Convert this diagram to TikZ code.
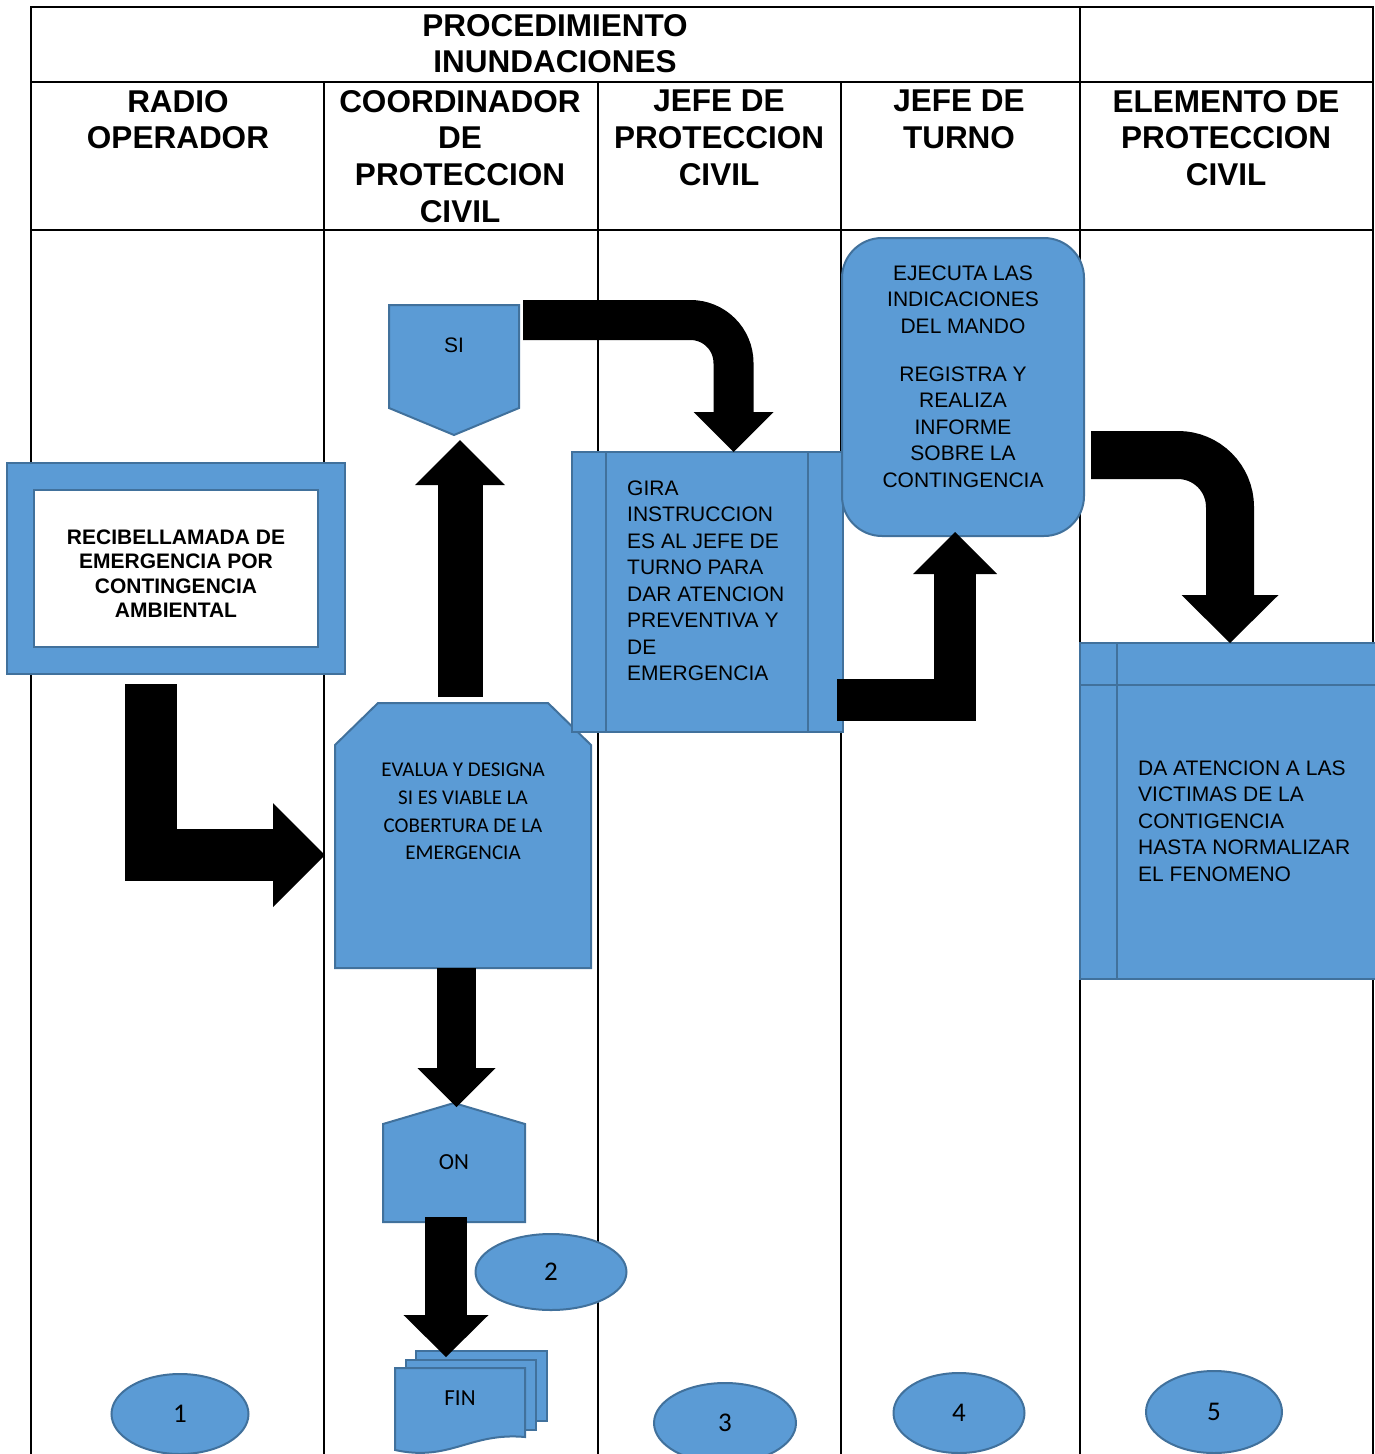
\documentclass[tikz,border=0pt]{standalone}
\usepackage{fontspec}
\setmainfont{Liberation Sans}
\newfontfamily\calibri{Carlito}
\usetikzlibrary{arrows.meta,shapes.geometric}
\definecolor{azul}{HTML}{5B9BD5}
\definecolor{borde}{HTML}{41719C}

\begin{document}
\begin{tikzpicture}[x=1pt, y=-1pt,
    linea/.style={line width=2pt},
    caja/.style={fill=azul, draw=borde, line width=2pt},
    forma/.style={inner sep=0pt, outer sep=0pt},
    texto/.style={inner sep=0pt, align=#1, font=\fontsize{21}{26.5}\selectfont},
    flecha/.style 2 args={line width=#1, -{Triangle[length=#1, width=#2, line width=0pt]}},
    encabezado/.style={inner sep=0pt, anchor=north, align=center, font=\fontsize{31.5}{36.8}\selectfont\bfseries},
    numero/.style={ellipse, caja, inner sep=0pt, font=\calibri\fontsize{27}{30}\selectfont},
  ]
  \useasboundingbox (0,0) rectangle (1375,1454);

  % tabla
  \draw[linea] (31,1454) -- (31,7) -- (1373,7) -- (1373,1454);
  \draw[linea] (31,82) -- (1373,82) (31,230) -- (1373,230);
  \draw[linea] (1080,7) -- (1080,1454);
  \foreach \x in {324,598,841}
    \draw[linea] (\x,82) -- (\x,1454);

  \node[encabezado] (titulo) at (555,14) {PROCEDIMIENTO\\INUNDACIONES};
  \node[encabezado] (hradio) at (178,90) {RADIO\\OPERADOR};
  \node[encabezado] (hcoord) at (460,90) {COORDINADOR\\DE\\PROTECCION\\CIVIL};
  \node[encabezado] (hjefepc) at (719,90) {JEFE DE\\PROTECCION\\CIVIL};
  \node[encabezado] (hjefet) at (959,90) {JEFE DE\\TURNO};
  \node[encabezado] (helemento) at (1226,90) {ELEMENTO DE\\PROTECCION\\CIVIL};

  % radio operador
  \node[caja, forma, minimum width=338pt, minimum height=211pt] (recibe) at (176,568.5) {};
  \node[forma, fill=white, draw=borde, line width=2pt, minimum width=284pt, minimum height=157pt] (llamada) at (recibe) {};
  \node[inner sep=0pt, anchor=north, align=center, font=\fontsize{21}{24.5}\selectfont\bfseries] (llamadatxt)
    at ([yshift=-39.5pt]llamada.north) {RECIBELLAMADA DE\\EMERGENCIA POR\\CONTINGENCIA\\AMBIENTAL};

  % coordinador
  \node[forma, minimum width=256pt, minimum height=265pt] (evalua) at (463,835.5) {};
  \draw[caja] (evalua.south west) -- ([yshift=-42pt]evalua.north west) -- ([xshift=43pt]evalua.north west)
    -- ([xshift=-43pt]evalua.north east) -- ([yshift=-42pt]evalua.north east) -- (evalua.south east) -- cycle;
  \node[texto=center, anchor=north, font=\calibri\fontsize{21}{27.7}\selectfont] (evaluatxt)
    at ([yshift=-60pt]evalua.north) {EVALUA Y DESIGNA\\SI ES VIABLE LA\\COBERTURA DE LA\\EMERGENCIA};

  \node[forma, minimum width=130pt, minimum height=130pt] (si) at (454,370) {};
  \draw[caja] (si.north west) -- (si.north east) -- ([yshift=27pt]si.south east) -- (si.south)
    -- ([yshift=27pt]si.south west) -- cycle;
  \node[texto=center, anchor=north] (sitxt) at ([yshift=-32.5pt]si.north) {SI};

  \node[forma, minimum width=142pt, minimum height=119pt] (on) at (454,1162.5) {};
  \draw[caja] (on.south west) -- ([yshift=-21pt]on.north west) -- (on.north)
    -- ([yshift=-21pt]on.north east) -- (on.south east) -- cycle;
  \node[inner sep=0pt, font=\calibri\fontsize{23}{26}\selectfont] (ontxt) at (on) {ON};

  \node[forma, minimum width=130pt, minimum height=84pt] (fin) at (460,1410) {};
  \draw[caja] ([xshift=21pt,yshift=17pt]fin.north west) rectangle ([xshift=22pt,yshift=31pt]fin.south east);
  \draw[caja] ([xshift=11pt,yshift=8pt]fin.north west) rectangle ([xshift=11pt,yshift=22pt]fin.south east);
  \draw[caja] (fin.north west) -- (fin.north east) -- ([yshift=15pt]fin.south east)
    .. controls ([xshift=-55pt,yshift=20pt]fin.south east) and ([xshift=55pt,yshift=-10pt]fin.south west)
    .. ([yshift=2pt]fin.south west) -- cycle;
  \node[inner sep=0pt, font=\calibri\fontsize{23}{26}\selectfont] (fintxt) at ([yshift=12pt]fin) {FIN};

  % jefe de proteccion civil
  \node[caja, forma, minimum width=271pt, minimum height=280pt] (gira) at (707.5,592) {};
  \draw[draw=borde, line width=2pt] ([xshift=34pt]gira.north west) -- ([xshift=34pt]gira.south west)
    ([xshift=-35pt]gira.north east) -- ([xshift=-35pt]gira.south east);
  \node[texto=left, anchor=north west] (giratxt) at ([xshift=55pt,yshift=-28.5pt]gira.north west)
    {GIRA\\INSTRUCCION\\ES AL JEFE DE\\TURNO PARA\\DAR ATENCION\\PREVENTIVA Y\\DE\\EMERGENCIA};

  % jefe de turno
  \node[caja, forma, rounded corners=40pt, minimum width=242pt, minimum height=298pt] (ejecuta) at (963,387) {};
  \node[texto=center, anchor=north] (ejecutatxt) at ([yshift=-27.5pt]ejecuta.north)
    {EJECUTA LAS\\INDICACIONES\\DEL MANDO\\[21.5pt]REGISTRA Y\\REALIZA\\INFORME\\SOBRE LA\\CONTINGENCIA};

  % elemento de proteccion civil
  \node[caja, forma, minimum width=300pt, minimum height=336pt] (elemento) at (1230,811) {};
  \draw[draw=borde, line width=2pt] ([xshift=37pt]elemento.north west) -- ([xshift=37pt]elemento.south west)
    ([yshift=-42pt]elemento.north west) -- ([yshift=-42pt]elemento.north east);
  \node[texto=left, anchor=north west] (elementotxt) at ([xshift=58pt,yshift=-117.5pt]elemento.north west)
    {DA ATENCION A LAS\\VICTIMAS DE LA\\CONTIGENCIA\\HASTA NORMALIZAR\\EL FENOMENO};

  % numeros
  \node[numero, minimum width=137pt, minimum height=80pt] (uno) at (180,1414) {1};
  \node[numero, minimum width=151pt, minimum height=76pt] (dos) at (551,1272) {2};
  \node[numero, minimum width=142pt, minimum height=80pt] (tres) at (725,1423) {3};
  \node[numero, minimum width=131pt, minimum height=80pt] (cuatro) at (959,1413) {4};
  \node[numero, minimum width=136pt, minimum height=82pt] (cinco) at (1214,1412) {5};

  % flechas
  \draw[flecha={52pt}{104pt}] ([xshift=-25pt,yshift=-10pt]recibe.south) |- ([xshift=-10pt,yshift=-19.5pt]evalua.west);
  \draw[flecha={45pt}{90pt}] ([xshift=-3pt,yshift=6pt]evalua.north) -- ([xshift=-3pt,yshift=-5pt]evalua.north |- si.south);
  \draw[flecha={40pt}{80pt}, rounded corners=43pt] ([xshift=4pt,yshift=-15pt]si.north east) -| ([xshift=26pt]gira.north);
  \draw[flecha={42pt}{84pt}] ([xshift=-6pt,yshift=32pt]gira.south east) -| ([xshift=-8pt,yshift=4pt]ejecuta.south);
  \draw[flecha={48pt}{97pt}, rounded corners=52pt] ([xshift=7pt,yshift=-68pt]ejecuta.east) -| (elemento.north);
  \draw[flecha={39pt}{78pt}] ([xshift=-6.5pt]evalua.south) -- ([xshift=-6.5pt,yshift=-4pt]evalua.south |- on.north);
  \draw[flecha={42pt}{85pt}] ([xshift=-8pt,yshift=5pt]on.south) -- ([xshift=-8pt,yshift=11pt]on.south |- fin.north);
\end{tikzpicture}
\end{document}
